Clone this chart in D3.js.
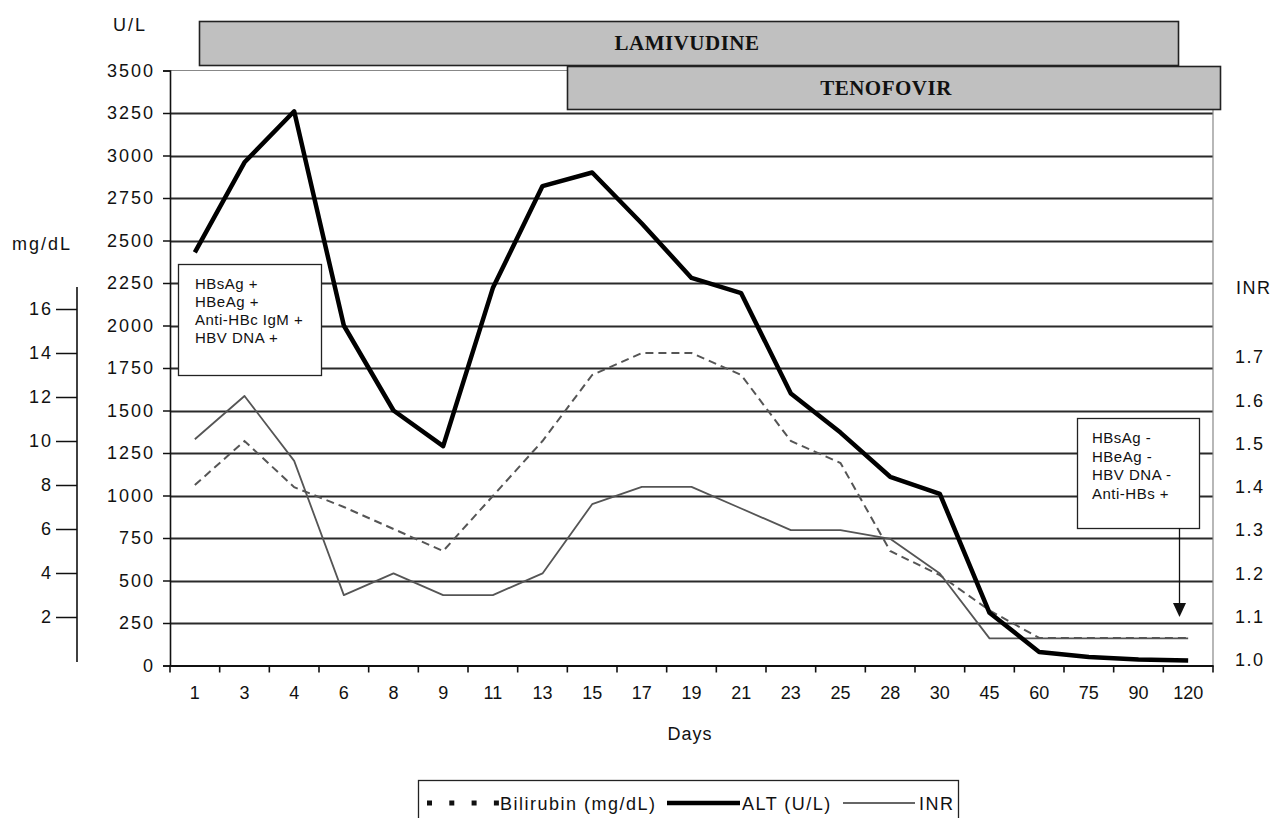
<!DOCTYPE html>
<html>
<head>
<meta charset="utf-8">
<script src="https://cdn.jsdelivr.net/npm/d3@7"></script>
<style>
  html, body { margin: 0; padding: 0; background: #fff; }
  svg { display: block; }
  text { font-family: "Liberation Sans", Arial, sans-serif; fill: #111; }
</style>
</head>
<body>
<svg id="chart" width="1282" height="818"></svg>
<script>
// ---------------- data ----------------
const days = ["1","3","4","6","8","9","11","13","15","17","19","21","23","25","28","30","45","60","75","90","120"];
const alt = [2430, 2960, 3260, 2000, 1500, 1290, 2220, 2820, 2900, 2600, 2280, 2190, 1600, 1370, 1110, 1010, 310, 80, 50, 35, 30];
const bilirubin = [8.0, 10.0, 7.9, 7.0, 6.0, 5.0, 7.5, 10.0, 13.0, 14.0, 14.0, 13.0, 10.0, 9.0, 5.0, 3.9, 2.3, 1.05, 1.05, 1.05, 1.05];
const inr = [1.51, 1.61, 1.46, 1.15, 1.20, 1.15, 1.15, 1.20, 1.36, 1.40, 1.40, 1.35, 1.30, 1.30, 1.28, 1.20, 1.05, 1.05, 1.05, 1.05, 1.05];

const altTicks = d3.range(0, 3501, 250);
const biliTicks = [2, 4, 6, 8, 10, 12, 14, 16];
const inrTicks = [1.0, 1.1, 1.2, 1.3, 1.4, 1.5, 1.6, 1.7];

const drugs = [
  { name: "LAMIVUDINE", row: 0 },
  { name: "TENOFOVIR", row: 1 }
];
const boxStart = ["HBsAg +", "HBeAg +", "Anti-HBc IgM +", "HBV DNA +"];
const boxEnd = ["HBsAg -", "HBeAg -", "HBV DNA -", "Anti-HBs +"];
const legendItems = ["Bilirubin (mg/dL)", "ALT (U/L)", "INR"];

(function () {
// ---------------- scales ----------------
const svg = d3.select("#chart");
const pl = 170, pr = 1213, pt = 70.5, pb = 665.5;

const x = d3.scaleBand().domain(days).range([pl, pr]).padding(0);
const cx = d => x(d) + x.bandwidth() / 2;
const yAlt = d3.scaleLinear().domain([0, 3500]).range([pb, pt]);
const yBili = d3.scaleLinear().domain([0, 16]).range([661, 309]);
const yInr = d3.scaleLinear().domain([1.0, 1.7]).range([660, 357]);

// ---------------- grid ----------------
svg.append("g").selectAll("line")
  .data(altTicks.filter(v => v > 0 && v < 3500))
  .join("line")
  .attr("x1", pl).attr("x2", pr)
  .attr("y1", d => Math.round(yAlt(d)) + 0.5).attr("y2", d => Math.round(yAlt(d)) + 0.5)
  .attr("stroke", "#2a2a2a").attr("stroke-width", 1.8);

svg.append("line").attr("x1", pl).attr("x2", pr).attr("y1", pt).attr("y2", pt)
  .attr("stroke", "#888").attr("stroke-width", 1);
svg.append("line").attr("x1", pr).attr("x2", pr).attr("y1", pt).attr("y2", pb)
  .attr("stroke", "#888").attr("stroke-width", 1.2);

// ---------------- ALT axis (left) ----------------
const gAlt = svg.append("g").attr("transform", `translate(${pl},0)`)
  .call(d3.axisLeft(yAlt).tickValues(altTicks).tickSize(7).tickPadding(8).tickFormat(d3.format("d")));
gAlt.select(".domain").attr("stroke", "#111").attr("stroke-width", 1.6);
gAlt.selectAll(".tick line").attr("stroke", "#111").attr("stroke-width", 1.5);
gAlt.selectAll(".tick text").style("font-size", "18px").style("letter-spacing", "2px")
  .style("font-family", "'Liberation Sans', Arial, sans-serif").attr("fill", "#111");

svg.append("text").attr("x", 113).attr("y", 31).style("font-size", "18px").style("letter-spacing", "2px").text("U/L");

// ---------------- X axis ----------------
const gX = svg.append("g").attr("transform", `translate(0,${pb})`)
  .call(d3.axisBottom(x).tickSizeInner(0).tickSizeOuter(0).tickPadding(21));
gX.select(".domain").attr("stroke", "#111").attr("stroke-width", 1.8);
gX.selectAll(".tick text").style("font-size", "18px")
  .style("font-family", "'Liberation Sans', Arial, sans-serif").attr("fill", "#111");
const boundaries = days.map(d => x(d)).concat([x.range()[1]]);
svg.append("g").selectAll("line").data(boundaries).join("line")
  .attr("x1", d => d).attr("x2", d => d).attr("y1", pb).attr("y2", pb + 7)
  .attr("stroke", "#111").attr("stroke-width", 1.6);

svg.append("text").attr("x", 690).attr("y", 740).attr("text-anchor", "middle")
  .style("font-size", "18px").style("letter-spacing", "1px").text("Days");

// ---------------- Bilirubin axis (far left) ----------------
const gB = svg.append("g").attr("transform", "translate(77,0)")
  .call(d3.axisLeft(yBili).tickValues(biliTicks).tickSize(21).tickPadding(3).tickFormat(d3.format("d")));
gB.select(".domain").remove();
gB.selectAll(".tick line").attr("stroke", "#111").attr("stroke-width", 1.5);
gB.selectAll(".tick text").style("font-size", "18px").style("letter-spacing", "2px")
  .style("font-family", "'Liberation Sans', Arial, sans-serif").attr("fill", "#111");
svg.append("line").attr("x1", 77).attr("x2", 77).attr("y1", 287).attr("y2", 662)
  .attr("stroke", "#111").attr("stroke-width", 1.6);
svg.append("text").attr("x", 12).attr("y", 250).style("font-size", "18px").style("letter-spacing", "2px").text("mg/dL");

// ---------------- INR axis (right) ----------------
const gI = svg.append("g").attr("transform", `translate(${pr},0)`)
  .call(d3.axisRight(yInr).tickValues(inrTicks).tickSize(0).tickPadding(22).tickFormat(d3.format(".1f")));
gI.select(".domain").remove();
gI.selectAll(".tick text").style("font-size", "18px").style("letter-spacing", "1.5px")
  .style("font-family", "'Liberation Sans', Arial, sans-serif").attr("fill", "#111");
svg.append("text").attr("x", 1236).attr("y", 294).style("font-size", "18px").style("letter-spacing", "1.5px").text("INR");

// ---------------- series ----------------
const lineInr = d3.line().x((d, i) => cx(days[i])).y(d => yInr(d));
const lineBili = d3.line().x((d, i) => cx(days[i])).y(d => yBili(d));
const lineAlt = d3.line().x((d, i) => cx(days[i])).y(d => yAlt(d));

svg.append("path").datum(bilirubin).attr("d", lineBili)
  .attr("fill", "none").attr("stroke", "#555").attr("stroke-width", 2).attr("stroke-dasharray", "8,5");
svg.append("path").datum(inr).attr("d", lineInr)
  .attr("fill", "none").attr("stroke", "#555").attr("stroke-width", 1.8).attr("stroke-linejoin", "round");
svg.append("path").datum(alt).attr("d", lineAlt)
  .attr("fill", "none").attr("stroke", "#000").attr("stroke-width", 4.5).attr("stroke-linejoin", "round");

// ---------------- annotation boxes ----------------
function textBox(x0, y0, w, h, lines, tx, ty, lh) {
  const g = svg.append("g");
  g.append("rect").attr("x", x0 + 0.5).attr("y", y0 + 0.5).attr("width", w).attr("height", h)
    .attr("fill", "#fff").attr("stroke", "#222").attr("stroke-width", 1.3);
  g.selectAll("text").data(lines).join("text")
    .attr("x", tx).attr("y", (d, i) => ty + i * lh)
    .style("font-size", "15px").style("letter-spacing", "0.5px").text(d => d);
}
textBox(178, 264, 143, 111, boxStart, 195, 289, 18);
textBox(1077, 418, 122, 110, boxEnd, 1092, 443, 18.5);

svg.append("line").attr("x1", 1179.5).attr("x2", 1179.5).attr("y1", 528).attr("y2", 606)
  .attr("stroke", "#111").attr("stroke-width", 1.3);
svg.append("path").attr("d", "M1173,603 L1186,603 L1179.5,617 Z").attr("fill", "#111");

// ---------------- drug bars ----------------
const barRows = [{ y: 21, h: 44 }, { y: 66, h: 43 }];
const drugEnd = { "LAMIVUDINE": 1178, "TENOFOVIR": 1220 };
const drugStart = { "LAMIVUDINE": 199, "TENOFOVIR": 567 };
drugs.forEach(d => {
  const r = barRows[d.row];
  const x0 = drugStart[d.name], x1 = drugEnd[d.name];
  svg.append("rect").attr("x", x0 + 0.5).attr("y", r.y + 0.5).attr("width", x1 - x0).attr("height", r.h)
    .attr("fill", "#c0c0c0").attr("stroke", "#222").attr("stroke-width", 1.6);
  svg.append("text").attr("x", d.row === 0 ? 687 : 886).attr("y", r.y + r.h / 2 + 7)
    .attr("text-anchor", "middle")
    .style("font-family", "'Liberation Serif', 'Times New Roman', serif")
    .style("font-weight", "bold").style("font-size", "21px").style("letter-spacing", "0.5px")
    .text(d.name);
});

// ---------------- legend ----------------
const lg = svg.append("g");
lg.append("rect").attr("x", 418.5).attr("y", 780.5).attr("width", 540).attr("height", 50)
  .attr("fill", "#fff").attr("stroke", "#222").attr("stroke-width", 1.3);
const ly = 803;
lg.append("line").attr("x1", 427).attr("x2", 499).attr("y1", ly).attr("y2", ly)
  .attr("stroke", "#111").attr("stroke-width", 5).attr("stroke-dasharray", "5,17.3");
lg.append("text").attr("x", 500).attr("y", ly + 7).style("font-size", "18px").style("letter-spacing", "1.5px").text(legendItems[0]);
lg.append("line").attr("x1", 667).attr("x2", 740).attr("y1", ly).attr("y2", ly)
  .attr("stroke", "#000").attr("stroke-width", 4.5);
lg.append("text").attr("x", 742).attr("y", ly + 7).style("font-size", "18px").style("letter-spacing", "1.5px").text(legendItems[1]);
lg.append("line").attr("x1", 843).attr("x2", 915).attr("y1", ly).attr("y2", ly)
  .attr("stroke", "#333").attr("stroke-width", 1.5);
lg.append("text").attr("x", 919).attr("y", ly + 7).style("font-size", "18px").style("letter-spacing", "1.5px").text(legendItems[2]);
})();
</script>
</body>
</html>
